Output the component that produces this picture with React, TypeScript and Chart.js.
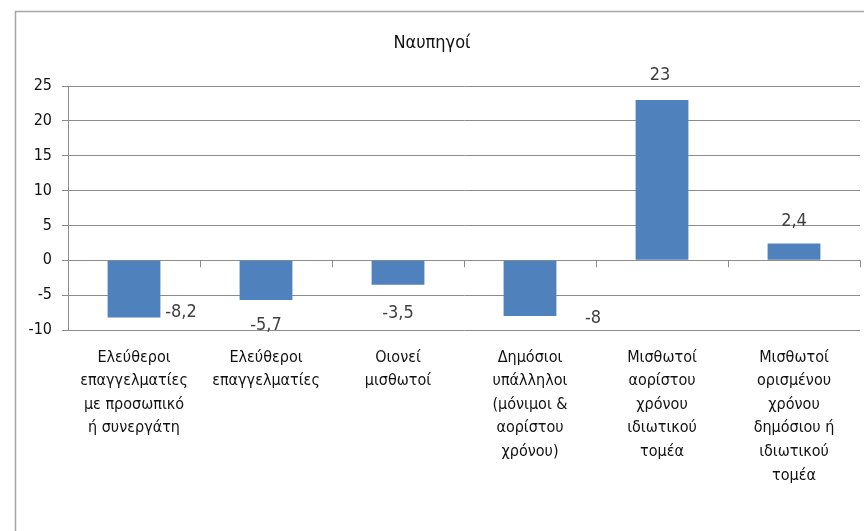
import React, { useEffect, useRef } from "react";
import { Chart, registerables } from "chart.js";

Chart.register(...registerables);

const TITLE = "Ναυπηγοί";
const CATEGORIES: string[][] = [
  ["Ελεύθεροι", "επαγγελματίες", "με προσωπικό", "ή συνεργάτη"],
  ["Ελεύθεροι", "επαγγελματίες"],
  ["Οιονεί", "μισθωτοί"],
  ["Δημόσιοι", "υπάλληλοι", "(μόνιμοι &", "αορίστου", "χρόνου)"],
  ["Μισθωτοί", "αορίστου", "χρόνου", "ιδιωτικού", "τομέα"],
  ["Μισθωτοί", "ορισμένου", "χρόνου", "δημόσιου ή", "ιδιωτικού", "τομέα"],
];
const VALUES: number[] = [-8.2, -5.7, -3.5, -8, 23, 2.4];
const Y_MIN = -10;
const Y_MAX = 25;
const Y_STEP = 5;

// label offsets relative to bar end (style only)
const LABEL_OFFSETS: [number, number][] = [
  [47, -5],
  [0, 25],
  [0, 29],
  [63, 2],
  [-2, -25],
  [0, -22],
];

const FONT = "'Liberation Sans Narrow', 'DejaVu Sans Condensed', 'Roboto Condensed', sans-serif";
const GRID = "#8c8c8c";

const framePlugin = {
  id: "frame",
  beforeDraw(chart: any) {
    const { ctx } = chart;
    ctx.save();
    ctx.fillStyle = "#ffffff";
    ctx.fillRect(0, 0, chart.width, chart.height);
    ctx.strokeStyle = "#a6a6a6";
    ctx.lineWidth = 1.5;
    ctx.strokeRect(15.5, 11.5, 1000, 1000);
    ctx.fillStyle = "#111111";
    ctx.font = `18px ${FONT}`;
    ctx.textAlign = "center";
    ctx.textBaseline = "middle";
    ctx.fillText(TITLE, 432, 43);
    ctx.restore();
  },
  afterDraw(chart: any) {
    const { ctx, chartArea } = chart;
    const y = chart.scales.y.getPixelForValue(0);
    const n = CATEGORIES.length;
    const w = (chartArea.right - chartArea.left) / n;
    ctx.save();
    ctx.strokeStyle = GRID;
    ctx.lineWidth = 1;
    ctx.beginPath();
    for (let i = 0; i <= n; i++) {
      const x = Math.round(chartArea.left + i * w) + 0.5;
      ctx.moveTo(x, y);
      ctx.lineTo(x, y + 7);
    }
    ctx.stroke();
    const meta = chart.getDatasetMeta(0);
    ctx.fillStyle = "#404040";
    ctx.font = `18px ${FONT}`;
    ctx.textAlign = "center";
    ctx.textBaseline = "middle";
    meta.data.forEach((bar: any, i: number) => {
      const [dx, dy] = LABEL_OFFSETS[i];
      const txt = String(VALUES[i]).replace(".", ",");
      ctx.fillText(txt, bar.x + dx, bar.y + dy);
    });
    ctx.restore();
  },
};

export default function App() {
  const ref = useRef<HTMLCanvasElement | null>(null);
  useEffect(() => {
    if (!ref.current) return;
    const chart = new Chart(ref.current, {
      type: "bar",
      data: {
        labels: CATEGORIES,
        datasets: [
          {
            data: VALUES,
            backgroundColor: "#4f81bd",
            borderWidth: 0,
            barPercentage: 0.4,
            categoryPercentage: 1,
          },
        ],
      },
      options: {
        responsive: false,
        animation: false,
        layout: { padding: { top: 86, left: 0, right: 4, bottom: 0 } },
        plugins: {
          legend: { display: false },
          title: { display: false },
          tooltip: { enabled: false },
        },
        scales: {
          x: {
            grid: { display: false },
            border: { display: false },
            ticks: {
              color: "#111111",
              font: { family: FONT, size: 16, lineHeight: 1.47 },
              padding: 8,
              maxRotation: 0,
              autoSkip: false,
            },
            afterFit(scale: any) {
              scale.height = 201;
            },
          },
          y: {
            min: Y_MIN,
            max: Y_MAX,
            ticks: {
              stepSize: Y_STEP,
              color: "#111111",
              font: { family: FONT, size: 16 },
              padding: 10,
            },
            grid: { color: GRID, tickLength: 6, tickColor: GRID },
            border: { display: true, color: GRID },
            afterFit(scale: any) {
              scale.width = 68;
            },
          },
        },
      },
      plugins: [framePlugin],
    });
    return () => chart.destroy();
  }, []);
  return (
    <canvas
      ref={ref}
      width={864}
      height={531}
      style={{ position: "absolute", left: 0, top: 0, display: "block" }}
    />
  );
}
